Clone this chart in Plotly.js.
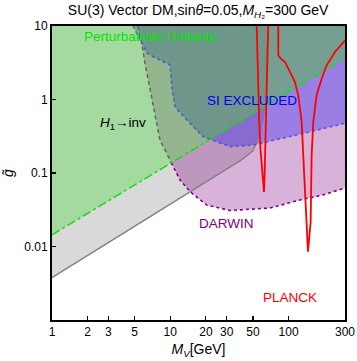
<!DOCTYPE html>
<html>
<head>
<meta charset="utf-8">
<script src="https://cdn.plot.ly/plotly-3.0.1.min.js"></script>
<style>
  html, body { margin: 0; padding: 0; background: #fff; }
  #plot { width: 357px; height: 361px; }
</style>
</head>
<body>
<div id="plot"></div>
<script>
// axis extents
var xMin = 1, xMax = 300, yMin = 0.001, yMax = 10;

// perturbative unitarity boundary (dash-dot green)
var unitX = [1, 10, 300];
var unitY = [0.0144, 0.135, 3.67];

// solid gray boundary
var grayX = [1, 10, 40, 50, 57, 62, 65, 66.5, 67];
var grayY = [0.00377, 0.0377, 0.151, 0.2, 0.34, 0.62, 1.3, 3, 10];

// H1 -> inv boundary (dashed gray)
var hinvX = [5.33, 5.77, 6.11, 6.96, 7.67, 8.18, 9.02, 10.2];
var hinvY = [10, 5.51, 3.11, 1.09, 0.526, 0.281, 0.206, 0.138];

// SI excluded boundary (dashed blue)
var siX = [4.84, 6.35, 7.18, 9.94, 10.3, 10.96, 13.8, 18.9, 32, 50, 117, 300];
var siY = [10, 4.3, 3.82, 2.94, 1.48, 0.79, 0.526, 0.312, 0.228, 0.24, 0.329, 0.474];

// DARWIN sensitivity (dashed purple)
var darwinX = [10.2, 12.1, 14.7, 20.3, 32, 69.6, 124.8, 195.4, 300];
var darwinY = [0.138, 0.08, 0.0557, 0.0367, 0.0309, 0.0334, 0.043, 0.0503, 0.0625];

// PLANCK relic density curves (red)
var planck1X = [53.8, 55, 56.5, 58, 60, 62, 62.6, 63.3, 64.2, 65, 66.3, 67.4];
var planck1Y = [10, 2, 0.5, 0.2, 0.1, 0.055, 0.08, 0.2, 0.5, 1, 4, 10];
var planck2X = [81.9, 81.9, 86, 93.3, 102.8, 113.3, 120.8, 129.1, 133.1, 137.6, 142.2, 145.9,
                150.2, 153.7, 156.7, 161.8, 172.8, 190.5, 209.9, 246.6, 300];
var planck2Y = [10, 4, 3.6, 3.24, 2.37, 1.73, 1.14, 0.494, 0.176, 0.061, 0.0228, 0.0085,
                0.0143, 0.0216, 0.176, 0.494, 1.15, 1.92, 2.92, 4.43, 6.38];

var L = Math.log10;

// y on the (straight, log-log) unitarity line
function unitAt(x) {
  var lx = L(x);
  for (var i = 0; i < unitX.length - 1; i++) {
    var a = L(unitX[i]), b = L(unitX[i + 1]);
    if (lx <= b || i == unitX.length - 2) {
      var t = (lx - a) / (b - a);
      return Math.pow(10, L(unitY[i]) + t * (L(unitY[i + 1]) - L(unitY[i])));
    }
  }
}

// SI boundary down to where it meets the unitarity line
function siAboveUnit() {
  var xs = [], ys = [];
  for (var i = 0; i < siX.length; i++) {
    if (siY[i] > unitAt(siX[i])) { xs.push(siX[i]); ys.push(siY[i]); continue; }
    var x0 = L(siX[i - 1]), y0 = L(siY[i - 1]), x1 = L(siX[i]), y1 = L(siY[i]);
    var lo = 0, hi = 1;
    for (var k = 0; k < 40; k++) {
      var m = (lo + hi) / 2;
      var xm = Math.pow(10, x0 + m * (x1 - x0)), ym = y0 + m * (y1 - y0);
      if (ym > L(unitAt(xm))) lo = m; else hi = m;
    }
    var xc = Math.pow(10, x0 + lo * (x1 - x0));
    xs.push(xc); ys.push(unitAt(xc));
    break;
  }
  return {x: xs, y: ys};
}

function fillTrace(xs, ys, color) {
  return {x: xs, y: ys, type: 'scatter', mode: 'lines', fill: 'toself',
          fillcolor: color, line: {width: 0}, hoverinfo: 'skip'};
}
function lineTrace(xs, ys, color, width, dash) {
  return {x: xs, y: ys, type: 'scatter', mode: 'lines',
          line: {color: color, width: width, dash: dash || 'solid'}, hoverinfo: 'skip'};
}

// gray region: above the solid line, under the SI / unitarity boundaries
var siCut = siAboveUnit();
var grayFill = fillTrace(grayX.concat(siCut.x, [xMin]), grayY.concat(siCut.y, [unitAt(xMin)]),
  'rgba(128,128,128,0.3)');
// DARWIN region: above its curve, right of the H1->inv line
var darwinFill = fillTrace(darwinX.concat([xMax], hinvX), darwinY.concat([yMax], hinvY),
  'rgba(128,0,128,0.3)');
var siFill = fillTrace(siX.concat([xMax]), siY.concat([yMax]), 'rgba(0,0,255,0.29)');
var unitFill = fillTrace(unitX.concat([xMax, xMin]), unitY.concat([yMax, yMax]), 'rgba(89,186,82,0.55)');

var data = [
  grayFill, darwinFill, siFill, unitFill,
  lineTrace(grayX, grayY, 'rgb(128,128,128)', 1.3),
  lineTrace(darwinX, darwinY, 'rgb(128,0,128)', 1.6, '3px,3px'),
  lineTrace(siX, siY, 'rgba(70,70,220,0.8)', 1.6, '3px,3px'),
  lineTrace(hinvX, hinvY, 'rgb(100,100,100)', 1.5, '4px,3px'),
  lineTrace(unitX, unitY, 'rgb(20,220,20)', 1.5, 'dashdot'),
  lineTrace(planck1X, planck1Y, 'rgb(255,0,0)', 1.8),
  lineTrace(planck2X, planck2Y, 'rgb(255,0,0)', 1.8)
];

var font = 'Liberation Sans, Arial, sans-serif';
var layout = {
  width: 357, height: 361,
  margin: {l: 52, r: 12, t: 26, b: 41},
  paper_bgcolor: 'white', plot_bgcolor: 'white',
  showlegend: false,
  font: {family: font, size: 12, color: 'black'},
  title: {text: 'SU(3) Vector DM,sin<i>θ</i>=0.05,<i>M</i><sub><i>H</i>₂</sub>=300 GeV',
          font: {size: 14, color: 'black'}, x: 0.555, xref: 'container', xanchor: 'center',
          y: 0.972, yref: 'container', yanchor: 'middle'},
  xaxis: {type: 'log', range: [L(xMin), L(xMax)],
          tickvals: [1, 2, 3, 5, 10, 20, 30, 50, 100, 300],
          ticktext: ['1', '2', '3', '5', '10', '20', '30', '50', '100', '300'],
          ticks: 'inside', ticklen: 4, tickwidth: 1.2, tickcolor: 'black',
          showline: true, linecolor: 'black', linewidth: 2, mirror: true,
          showgrid: false, zeroline: false,
          title: {text: '<i>M</i><sub><i>V</i></sub>[GeV]', font: {size: 14}, standoff: 6}},
  yaxis: {type: 'log', range: [L(yMin), L(yMax)],
          tickvals: [0.01, 0.1, 1, 10], ticktext: ['0.01', '0.1', '1', '10'],
          ticks: 'inside', ticklen: 4, tickwidth: 1.2, tickcolor: 'black',
          showline: true, linecolor: 'black', linewidth: 2, mirror: true,
          showgrid: false, zeroline: false,
          title: {text: '<i>g̃</i>', font: {size: 14}, standoff: 8}},
  annotations: [
    {text: 'Perturbativite Unitarity', x: 0.336, y: 0.963, color: 'rgb(0,230,0)'},
    {text: 'SI EXCLUDED', x: 0.684, y: 0.748, color: 'rgb(0,0,235)'},
    {text: '<i>H</i><sub>1</sub>→inv', x: 0.241, y: 0.670, color: 'black'},
    {text: 'DARWIN', x: 0.596, y: 0.327, color: 'rgb(128,0,128)'},
    {text: 'PLANCK', x: 0.811, y: 0.075, color: 'rgb(255,0,0)'}
  ].map(function (a) {
    return {text: a.text, x: a.x, y: a.y, xref: 'paper', yref: 'paper',
            xanchor: 'center', yanchor: 'middle', showarrow: false,
            font: {family: font, size: 13.5, color: a.color}};
  })
};

Plotly.newPlot('plot', data, layout, {staticPlot: true});
</script>
</body>
</html>
